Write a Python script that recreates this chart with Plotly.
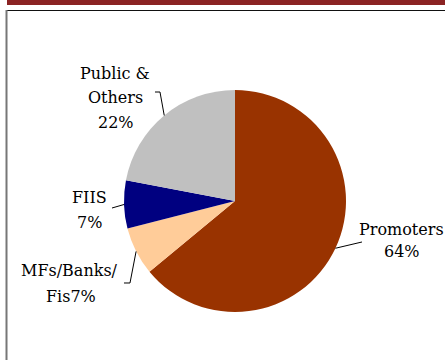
import math
import plotly.graph_objects as go

# Shareholding pattern
categories = ["Promoters", "MFs/Banks/Fis", "FIIS", "Public & Others"]
shares = [64, 7, 7, 22]
colors = ["#993300", "#FFCC99", "#000080", "#C0C0C0"]

# Label text lines for each slice
label_lines = [
    ["Promoters", "64%"],
    ["MFs/Banks/", "Fis7%"],
    ["FIIS", "7%"],
    ["Public &", "Others", "22%"],
]

W, H = 445, 360
CX, CY, R = 235, 201, 111  # pie centre and radius in pixels


def px(x):
    return x / W


def py(y):
    return 1 - y / H


fig = go.Figure(
    go.Pie(
        labels=categories,
        values=shares,
        marker=dict(colors=colors, line=dict(width=0)),
        sort=False,
        direction="clockwise",
        rotation=0,
        textinfo="none",
        hoverinfo="label+percent",
        showlegend=False,
        domain=dict(x=[px(CX - R), px(CX + R)], y=[py(CY + R), py(CY - R)]),
    )
)

# Rim point at the middle angle of each slice (clockwise from 12 o'clock)
total = sum(shares)
rim = []
acc = 0
for v in shares:
    mid = (acc + v / 2) / total * 2 * math.pi
    rim.append((CX + R * math.sin(mid), CY - R * math.cos(mid)))
    acc += v

# Leader line waypoints from the rim outward to each label
leader_paths = [
    [rim[0], (362, 242)],
    [rim[1], (130, 283), (124, 283)],
    [rim[2], (112, 208)],
    [rim[3], (160, 92), (155, 92)],
]

# Label line positions (centre x, centre y) in pixels
label_pos = [
    [(401, 229), (402, 252)],
    [(69, 270), (71, 296)],
    [(89, 197), (89, 222)],
    [(115, 74), (115, 98), (116, 122)],
]

shapes = [
    # title band across the top
    dict(type="rect", xref="paper", yref="paper",
         x0=px(7), x1=1, y0=py(5), y1=1,
         fillcolor="#8B2323", line=dict(width=0), layer="below"),
    # frame top edge
    dict(type="line", xref="paper", yref="paper",
         x0=px(7), x1=1, y0=py(10.5), y1=py(10.5),
         line=dict(color="#111111", width=1)),
    # frame left edge
    dict(type="line", xref="paper", yref="paper",
         x0=px(6.5), x1=px(6.5), y0=0, y1=py(10),
         line=dict(color="#777777", width=2)),
]

for path in leader_paths:
    d = "M " + " L ".join(f"{px(x):.5f},{py(y):.5f}" for x, y in path)
    shapes.append(dict(type="path", xref="paper", yref="paper", path=d,
                       line=dict(color="#000000", width=1)))

annotations = []
for lines, positions in zip(label_lines, label_pos):
    for text, (x, y) in zip(lines, positions):
        annotations.append(dict(
            text=text, x=px(x), y=py(y), xref="paper", yref="paper",
            xanchor="center", yanchor="middle", showarrow=False,
            font=dict(family="DejaVu Serif", size=16, color="#000000"),
        ))

fig.update_layout(
    width=W, height=H,
    margin=dict(l=0, r=0, t=0, b=0),
    paper_bgcolor="white",
    plot_bgcolor="white",
    shapes=shapes,
    annotations=annotations,
)

fig.write_html("out.html")
